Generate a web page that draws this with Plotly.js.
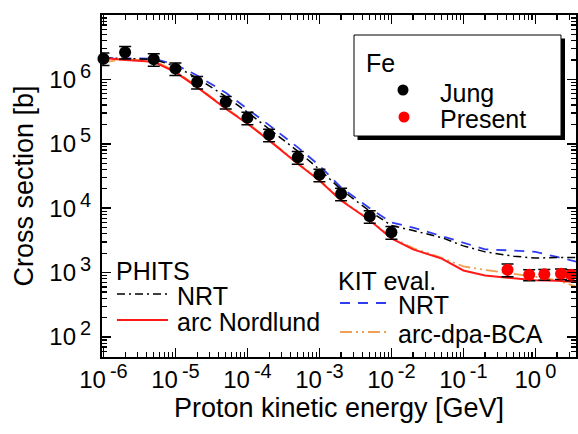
<!DOCTYPE html>
<html>
<head>
<meta charset="utf-8">
<script src="https://cdn.plot.ly/plotly-3.0.1.min.js"></script>
<style>html,body{margin:0;padding:0;background:#fff;}#chart{width:578px;height:434px;}</style>
</head>
<body>
<div id="chart"></div>
<script>
// ---- Data ----
const jungE = [1e-6, 2e-6, 5e-6, 1e-5, 2e-5, 5e-5, 1e-4, 2e-4, 5e-4, 1e-3, 2e-3, 5e-3, 1e-2];
const jungXS = [2.1e6, 2.65e6, 2.05e6, 1.47e6, 9.1e5, 4.45e5, 2.54e5, 1.38e5, 6.2e4, 3.3e4, 1.68e4, 7.5e3, 4.25e3];
const jungErr = [4.6e5, 5.8e5, 4.5e5, 3.2e5, 2.0e5, 9.8e4, 5.6e4, 3.0e4, 1.4e4, 7.3e3, 3.7e3, 1.65e3, 9.4e2];

const presentE = [0.41, 0.82, 1.33, 2.27, 3.13];
const presentXS = [1110, 930, 940, 960, 930];
const presentErr = [250, 180, 180, 180, 180];

const curveE = [1e-6, 2e-6, 5e-6, 1e-5, 2e-5, 5e-5, 1e-4, 2e-4, 5e-4, 1e-3, 2e-3, 5e-3, 1e-2, 2e-2, 5e-2, 0.1, 0.2, 0.5, 1, 2, 4];
const phitsNRT = [2.15e6, 2.1e6, 2.05e6, 1.6e6, 1.05e6, 5.4e5, 3.1e5, 1.7e5, 7.7e4, 4.0e4, 1.95e4, 9.0e3, 5.4e3, 4.5e3, 3.5e3, 2.6e3, 2.1e3, 1.8e3, 1.68e3, 1.72e3, 1.72e3];
const phitsArc = [2.15e6, 2.0e6, 1.88e6, 1.3e6, 7.6e5, 3.5e5, 2.05e5, 1.13e5, 4.9e4, 2.7e4, 1.32e4, 6.5e3, 3.4e3, 2.3e3, 1.65e3, 1.08e3, 900, 810, 760, 750, 710];
const kitNRT = [2.15e6, 2.15e6, 2.1e6, 1.7e6, 1.15e6, 6.2e5, 3.5e5, 1.95e5, 8.8e4, 4.6e4, 2.1e4, 1.0e4, 6.0e3, 5.0e3, 3.7e3, 2.9e3, 2.3e3, 2.2e3, 2.1e3, 1.75e3, 1.45e3];
const kitArcBCA = [1.85e6, 2.05e6, 1.95e6, 1.35e6, 7.8e5, 3.6e5, 2.1e5, 1.15e5, 5.0e4, 2.75e4, 1.35e4, 6.6e3, 3.5e3, 2.4e3, 1.7e3, 1.25e3, 1.1e3, 960, 860, 760, 590];

const xTickVals = [1e-6, 1e-5, 1e-4, 1e-3, 1e-2, 1e-1, 1];
const xTickExp = ['-6', '-5', '-4', '-3', '-2', '-1', '0'];
const yTickVals = [1e2, 1e3, 1e4, 1e5, 1e6, 1e7];
const yTickExp = ['2', '3', '4', '5', '6', '7'];

const supText = e => '10<sup><span style="font-size:20px">\u2009' + e + '</span></sup>';
const xTickText = xTickExp.map(supText);
const yTickText = yTickExp.map(supText);

// minor tick positions (axis decoration)
const xMinor = [];
for (let p = -7; p <= 0; p++) for (let m = 2; m <= 9; m++) xMinor.push(m * Math.pow(10, p));
const yMinor = [];
for (let p = 1; p <= 6; p++) for (let m = 2; m <= 9; m++) yMinor.push(m * Math.pow(10, p));

// ---- layout helpers (pixel -> paper) ----
const L = 102, R = 576, T = 15, B = 357;
const px = x => (x - L) / (R - L);
const py = y => (B - y) / (B - T);
const FONT = '"Liberation Sans", Arial, sans-serif';

const traces = [
  {x: curveE, y: kitArcBCA, mode: 'lines', line: {color: '#f0a050', width: 1.8, dash: '12px,4px,2px,4px,2px,4px'}, hoverinfo: 'skip'},
  {x: curveE, y: kitNRT, mode: 'lines', line: {color: '#2f3cf0', width: 1.8, dash: '10px,8px'}, hoverinfo: 'skip'},
  {x: curveE, y: phitsNRT, mode: 'lines', line: {color: '#000000', width: 1.5, dash: '8px,4px,2px,4px'}, hoverinfo: 'skip'},
  {x: curveE, y: phitsArc, mode: 'lines', line: {color: '#ff1a1a', width: 2}, hoverinfo: 'skip'},
  {x: jungE, y: jungXS, mode: 'markers', cliponaxis: false,
   marker: {color: '#000', size: 12},
   error_y: {type: 'data', array: jungErr, visible: true, color: '#000', thickness: 1.5, width: 6}},
  {x: presentE, y: presentXS, mode: 'markers', cliponaxis: false,
   marker: {color: '#ff0000', size: 12},
   error_y: {type: 'data', array: presentErr, visible: true, color: '#000', thickness: 1.5, width: 6}}
];

const shapes = [
  // legend box with shadow
  {type: 'rect', xref: 'paper', yref: 'paper', x0: px(357.5), x1: px(565), y0: py(140), y1: py(38.5), fillcolor: '#000', line: {width: 0}},
  {type: 'rect', xref: 'paper', yref: 'paper', x0: px(354), x1: px(561), y0: py(136), y1: py(35), fillcolor: '#fff', line: {color: '#000', width: 1}},
  {type: 'circle', xref: 'paper', yref: 'paper', x0: px(397.5), x1: px(408.5), y0: py(95.5), y1: py(84.5), fillcolor: '#000', line: {width: 0}},
  {type: 'circle', xref: 'paper', yref: 'paper', x0: px(398.5), x1: px(409.5), y0: py(122.5), y1: py(111.5), fillcolor: '#ff0000', line: {width: 0}},
  // PHITS legend samples
  {type: 'line', xref: 'paper', yref: 'paper', x0: px(117), x1: px(168), y0: py(294), y1: py(294), line: {color: '#000', width: 1.5, dash: '8px,4px,2px,4px'}},
  {type: 'line', xref: 'paper', yref: 'paper', x0: px(117), x1: px(168), y0: py(320), y1: py(320), line: {color: '#ff1a1a', width: 2}},
  // KIT legend samples
  {type: 'line', xref: 'paper', yref: 'paper', x0: px(340), x1: px(390), y0: py(303), y1: py(303), line: {color: '#2f3cf0', width: 1.8, dash: '10px,8px'}},
  {type: 'line', xref: 'paper', yref: 'paper', x0: px(340), x1: px(390), y0: py(332), y1: py(332), line: {color: '#f0a050', width: 1.8, dash: '12px,4px,2px,4px,2px,4px'}}
];

const ann = (text, x, y) => ({text: text, xref: 'paper', yref: 'paper', x: px(x), y: py(y), xanchor: 'left', yanchor: 'middle', showarrow: false, font: {family: FONT, size: 25, color: '#000'}});
const annotations = [
  ann('Fe', 364, 63),
  ann('Jung', 438, 93),
  ann('Present', 438, 119),
  ann('PHITS', 114, 271),
  ann('NRT', 175, 296),
  ann('arc Nordlund', 175, 322),
  ann('KIT eval.', 336, 281),
  ann('NRT', 396, 305),
  ann('arc-dpa-BCA', 396, 334)
];

const axisCommon = {
  type: 'log', tickmode: 'array', ticks: 'inside', ticklen: 9, tickwidth: 1.5, tickcolor: '#000',
  mirror: 'allticks', showline: true, linewidth: 2, linecolor: '#000', showgrid: false, zeroline: false,
  tickfont: {family: FONT, size: 24, color: '#000'}
};

const layout = {
  width: 578, height: 434,
  margin: {l: L, r: 578 - R, t: T, b: 434 - B},
  paper_bgcolor: '#fff', plot_bgcolor: '#fff',
  showlegend: false,
  font: {family: FONT, color: '#000'},
  xaxis: Object.assign({}, axisCommon, {
    range: [-6.02, 0.564], tickvals: xTickVals, ticktext: xTickText,
    minor: {tickmode: 'array', tickvals: xMinor, ticks: 'inside', ticklen: 5, tickwidth: 1.2, tickcolor: '#000', showgrid: false},
    title: {text: 'Proton kinetic energy [GeV]', font: {family: FONT, size: 27, color: '#000'}, standoff: 6}
  }),
  yaxis: Object.assign({}, axisCommon, {
    range: [1.69, 7.0], tickvals: yTickVals, ticktext: yTickText, ticklabelstandoff: 4,
    minor: {tickmode: 'array', tickvals: yMinor, ticks: 'inside', ticklen: 5, tickwidth: 1.2, tickcolor: '#000', showgrid: false},
    title: {text: 'Cross section [b]', font: {family: FONT, size: 27, color: '#000'}, standoff: 8}
  }),
  shapes: shapes,
  annotations: annotations
};

Plotly.newPlot('chart', traces, layout, {staticPlot: true, displayModeBar: false});
</script>
</body>
</html>
